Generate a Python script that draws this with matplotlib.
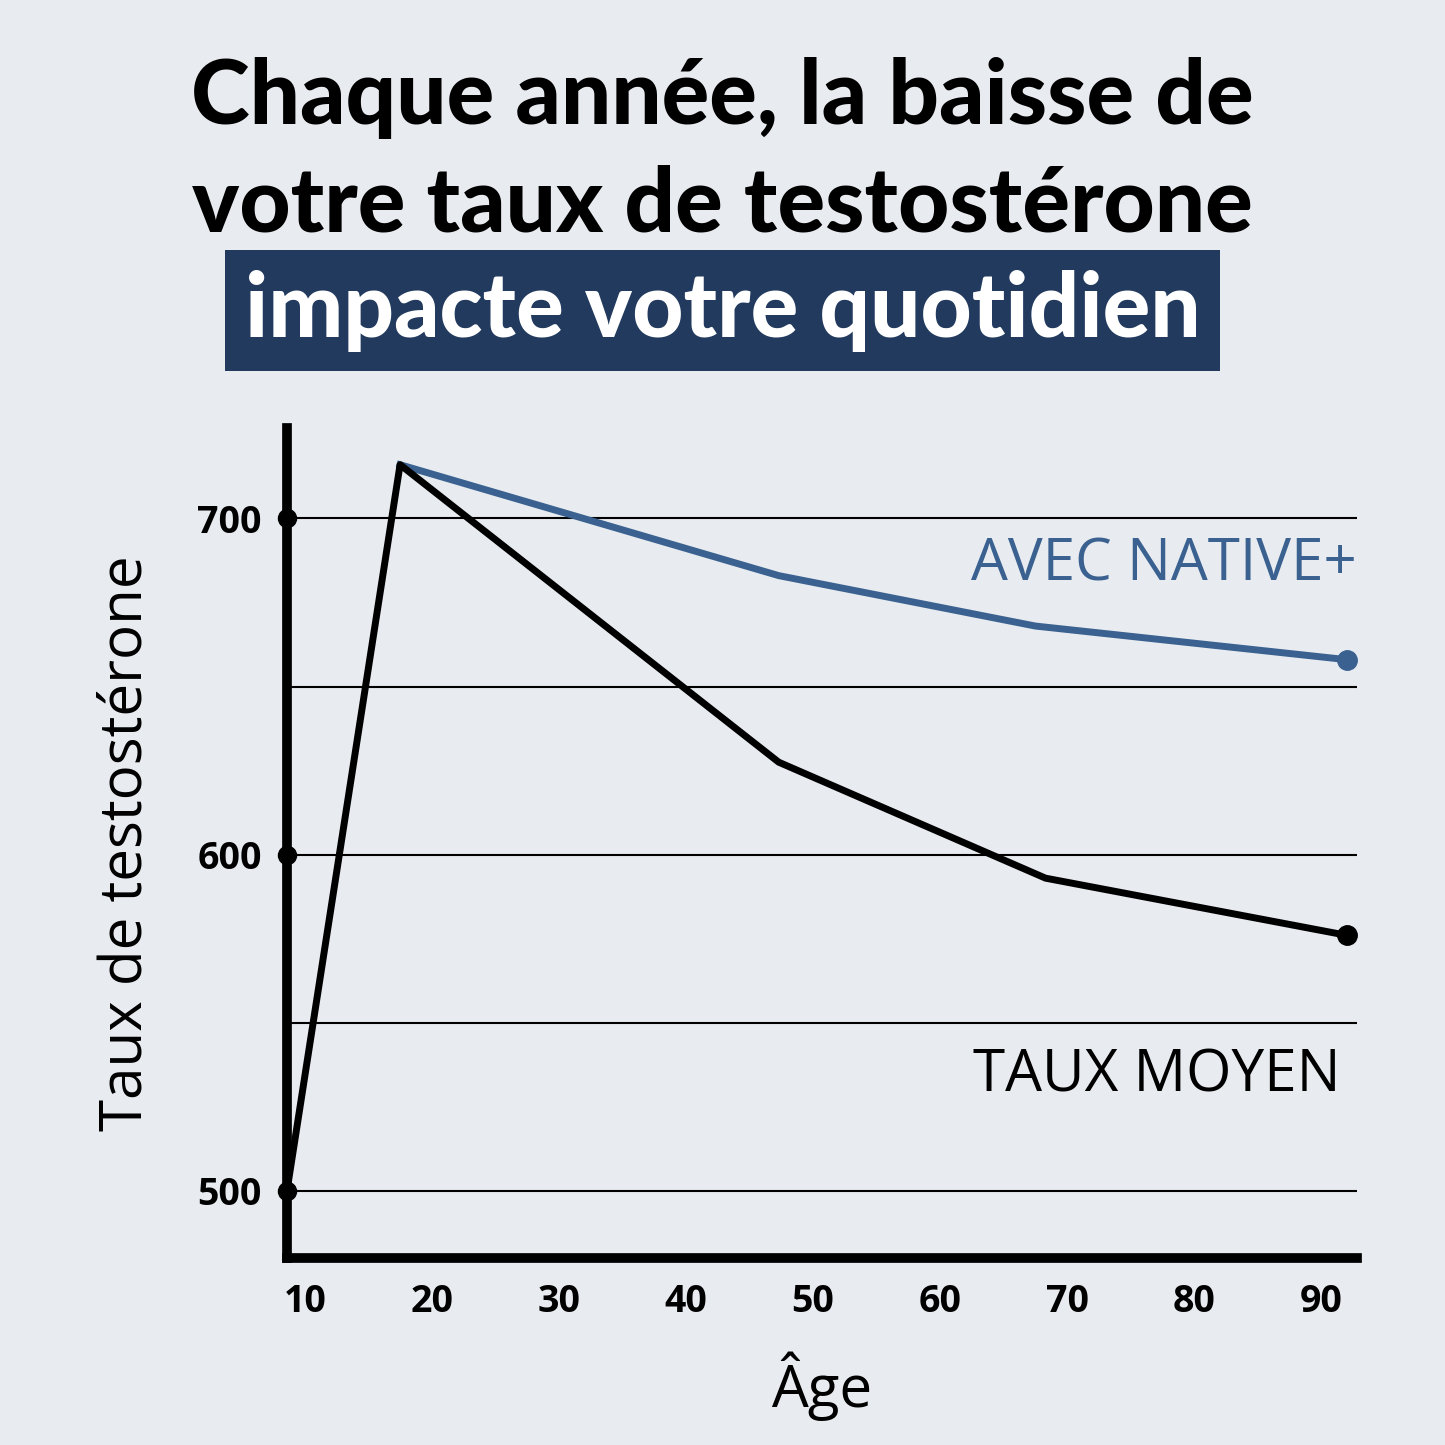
import matplotlib.pyplot as plt

ages_moyen = [8.6, 17.5, 47.3, 68.3, 92.0]
taux_moyen = [500, 716, 627.5, 593, 576]
ages_native = [17.5, 47.3, 67.5, 92.0]
taux_native = [716, 683, 668, 658]
grid_vals = [500, 550, 600, 650, 700]
yticks = [500, 600, 700]
xticks = [10, 20, 30, 40, 50, 60, 70, 80, 90]

bg = '#E8ECF0'
blue = '#3A6190'
navy = '#223A5E'

fig = plt.figure(figsize=(14.45, 14.45), dpi=100, facecolor=bg)
ax = fig.add_axes([0.1986, 0.1294, 0.7404, 0.5746], facecolor=bg)
ax.set_xlim(8.6, 92.8)
ax.set_ylim(480, 727)

for g in grid_vals:
    ax.axhline(g, color='black', lw=1.5, zorder=1)

ax.plot(ages_native, taux_native, color=blue, lw=5, zorder=3)
ax.plot(ages_native[-1], taux_native[-1], 'o', color=blue, ms=14, zorder=4)
ax.plot(ages_moyen, taux_moyen, color='black', lw=5, zorder=3)
ax.plot(ages_moyen[-1], taux_moyen[-1], 'o', color='black', ms=14, zorder=4)
ax.plot([8.6] * len(yticks), yticks, 'o', color='black', ms=13, zorder=5, clip_on=False)

for s in ['top', 'right']:
    ax.spines[s].set_visible(False)
ax.spines['left'].set_linewidth(7)
ax.spines['bottom'].set_linewidth(7)
ax.set_yticks(yticks)
ax.set_yticklabels([str(v) for v in yticks], fontsize=27, fontweight='bold', family='Open Sans')
ax.set_xticks(xticks)
ax.set_xticklabels([str(v) for v in xticks], fontsize=27, fontweight='bold', family='Open Sans')
ax.tick_params(length=0, pad=18)
ax.set_xlabel('Âge', fontsize=42, family='Open Sans', labelpad=22)
ax.set_ylabel('Taux de testostérone', fontsize=42, family='Open Sans', labelpad=30)

ax.text(92.8, 686, 'AVEC NATIVE+', color=blue, fontsize=42, family='Open Sans', ha='right', va='center')
ax.text(91.5, 534, 'TAUX MOYEN', color='black', fontsize=42, family='Open Sans', ha='right', va='center')

fig.text(0.5, 0.932, 'Chaque année, la baisse de', fontsize=64, fontweight='black',
         family='Lato', ha='center', va='center')
fig.text(0.5, 0.858, 'votre taux de testostérone', fontsize=64, fontweight='black',
         family='Lato', ha='center', va='center')
fig.text(0.5, 0.785, 'impacte votre quotidien', fontsize=64, fontweight='black', color='white',
         family='Lato', ha='center', va='center',
         bbox=dict(facecolor=navy, edgecolor='none', boxstyle='square,pad=0.22'))

fig.savefig('out.png', dpi=100, facecolor=bg)
